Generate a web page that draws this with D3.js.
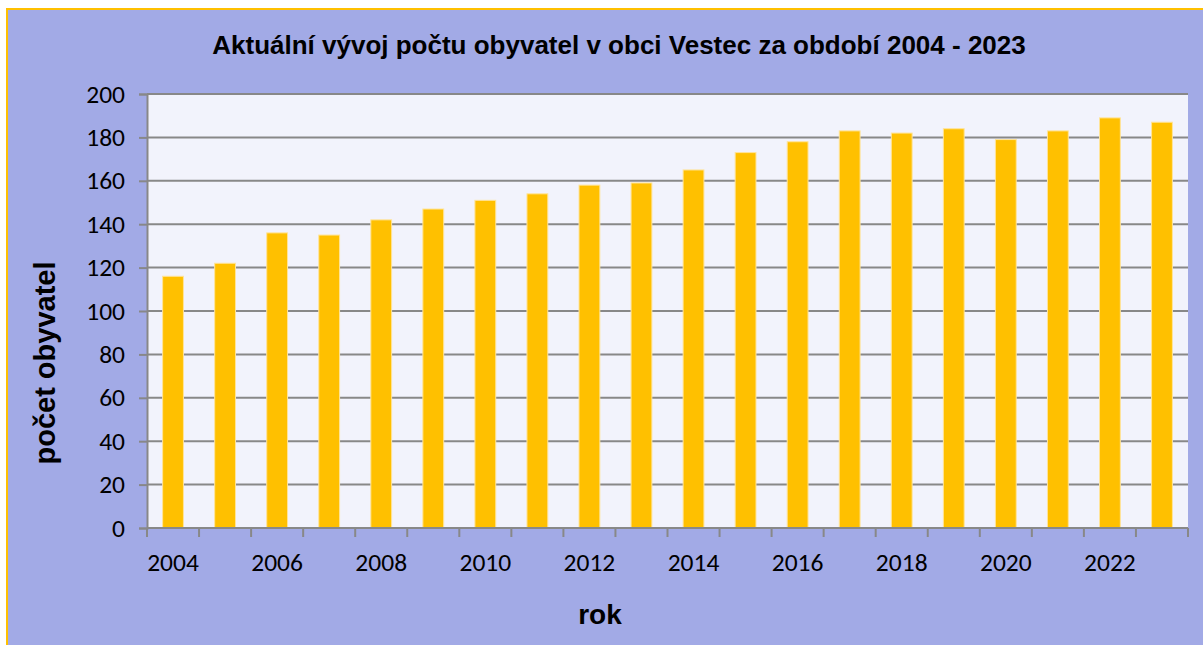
<!DOCTYPE html>
<html><head><meta charset="utf-8">
<script src="https://cdn.jsdelivr.net/npm/d3@7"></script>
<style>html,body{margin:0;padding:0;background:#fff;}svg{display:block;}</style>
</head><body>
<script>
const years = [2004,2005,2006,2007,2008,2009,2010,2011,2012,2013,2014,2015,2016,2017,2018,2019,2020,2021,2022,2023];
const population = [116,122,136,135,142,147,151,154,158,159,165,173,178,183,182,184,179,183,189,187];
const yTicks = [0,20,40,60,80,100,120,140,160,180,200];
const xLabelYears = [2004,2006,2008,2010,2012,2014,2016,2018,2020,2022];
const titleText = "Aktuální vývoj počtu obyvatel v obci Vestec za období 2004 - 2023";
const yTitle = "počet obyvatel";
const xTitle = "rok";

const W = 1203, H = 645;
const m = {left:147, right:1188, top:94, bottom:528};
const svg = d3.select("body").append("svg").attr("width",W).attr("height",H);

svg.append("rect").attr("x",7).attr("y",9).attr("width",W+10).attr("height",H+10)
  .attr("fill","#A2AAE6").attr("stroke","#FFC000").attr("stroke-width",2);

const x = d3.scaleBand().domain(years).range([m.left,m.right]).paddingInner(0.6).paddingOuter(0.3);
const xb = d3.scaleBand().domain(years).range([m.left,m.right]);
const y = d3.scaleLinear().domain([0,200]).range([m.bottom,m.top]);

svg.append("rect").attr("x",m.left).attr("y",m.top).attr("width",m.right-m.left).attr("height",m.bottom-m.top).attr("fill","#F2F3FC");

svg.append("g").selectAll("line").data(yTicks.filter(d=>d>0)).join("line")
  .attr("x1",m.left).attr("x2",m.right).attr("y1",d=>y(d)).attr("y2",d=>y(d))
  .attr("stroke","#888888").attr("stroke-width",2);

svg.append("g").selectAll("rect").data(years).join("rect")
  .attr("x",(d)=>x(d)).attr("width",x.bandwidth())
  .attr("y",(d,i)=>y(population[i])).attr("height",(d,i)=>y(0)-y(population[i]))
  .attr("fill","#FFC000").attr("stroke","#FFE49A").attr("stroke-width",1);

const yAxis = d3.axisLeft(y).tickValues(yTicks).tickSize(8).tickPadding(14);
const ga = svg.append("g").attr("transform",`translate(${m.left},0)`).call(yAxis);
ga.select(".domain").attr("stroke","#888").attr("stroke-width",2);
ga.selectAll(".tick line").attr("stroke","#888").attr("stroke-width",2);
ga.selectAll("text").attr("font-family","Carlito, Lato, sans-serif").attr("font-size",25.5).attr("fill","#000");

const bounds = years.map(d=>xb(d)).concat([m.right]);
const gx = svg.append("g");
gx.append("line").attr("x1",m.left).attr("x2",m.right).attr("y1",m.bottom).attr("y2",m.bottom).attr("stroke","#888").attr("stroke-width",2);
gx.selectAll("line.t").data(bounds).join("line").attr("class","t")
  .attr("x1",d=>d).attr("x2",d=>d).attr("y1",m.bottom).attr("y2",m.bottom+9).attr("stroke","#888").attr("stroke-width",2);
gx.selectAll("text").data(xLabelYears).join("text")
  .attr("x",d=>xb(d)+xb.bandwidth()/2).attr("y",571).attr("text-anchor","middle")
  .attr("font-family","Carlito, Lato, sans-serif").attr("font-size",25.5).attr("fill","#000").text(d=>d);

svg.append("text").attr("x",619).attr("y",54).attr("text-anchor","middle")
  .attr("font-family","'Liberation Sans', Arial, sans-serif").attr("font-weight","bold").attr("font-size",26).text(titleText);
svg.append("text").attr("transform","translate(55,363) rotate(-90)").attr("text-anchor","middle")
  .attr("font-family","'Liberation Sans', Arial, sans-serif").attr("font-weight","bold").attr("font-size",29).text(yTitle);
svg.append("text").attr("x",600).attr("y",624).attr("text-anchor","middle")
  .attr("font-family","'Liberation Sans', Arial, sans-serif").attr("font-weight","bold").attr("font-size",28).text(xTitle);
</script>
</body></html>
